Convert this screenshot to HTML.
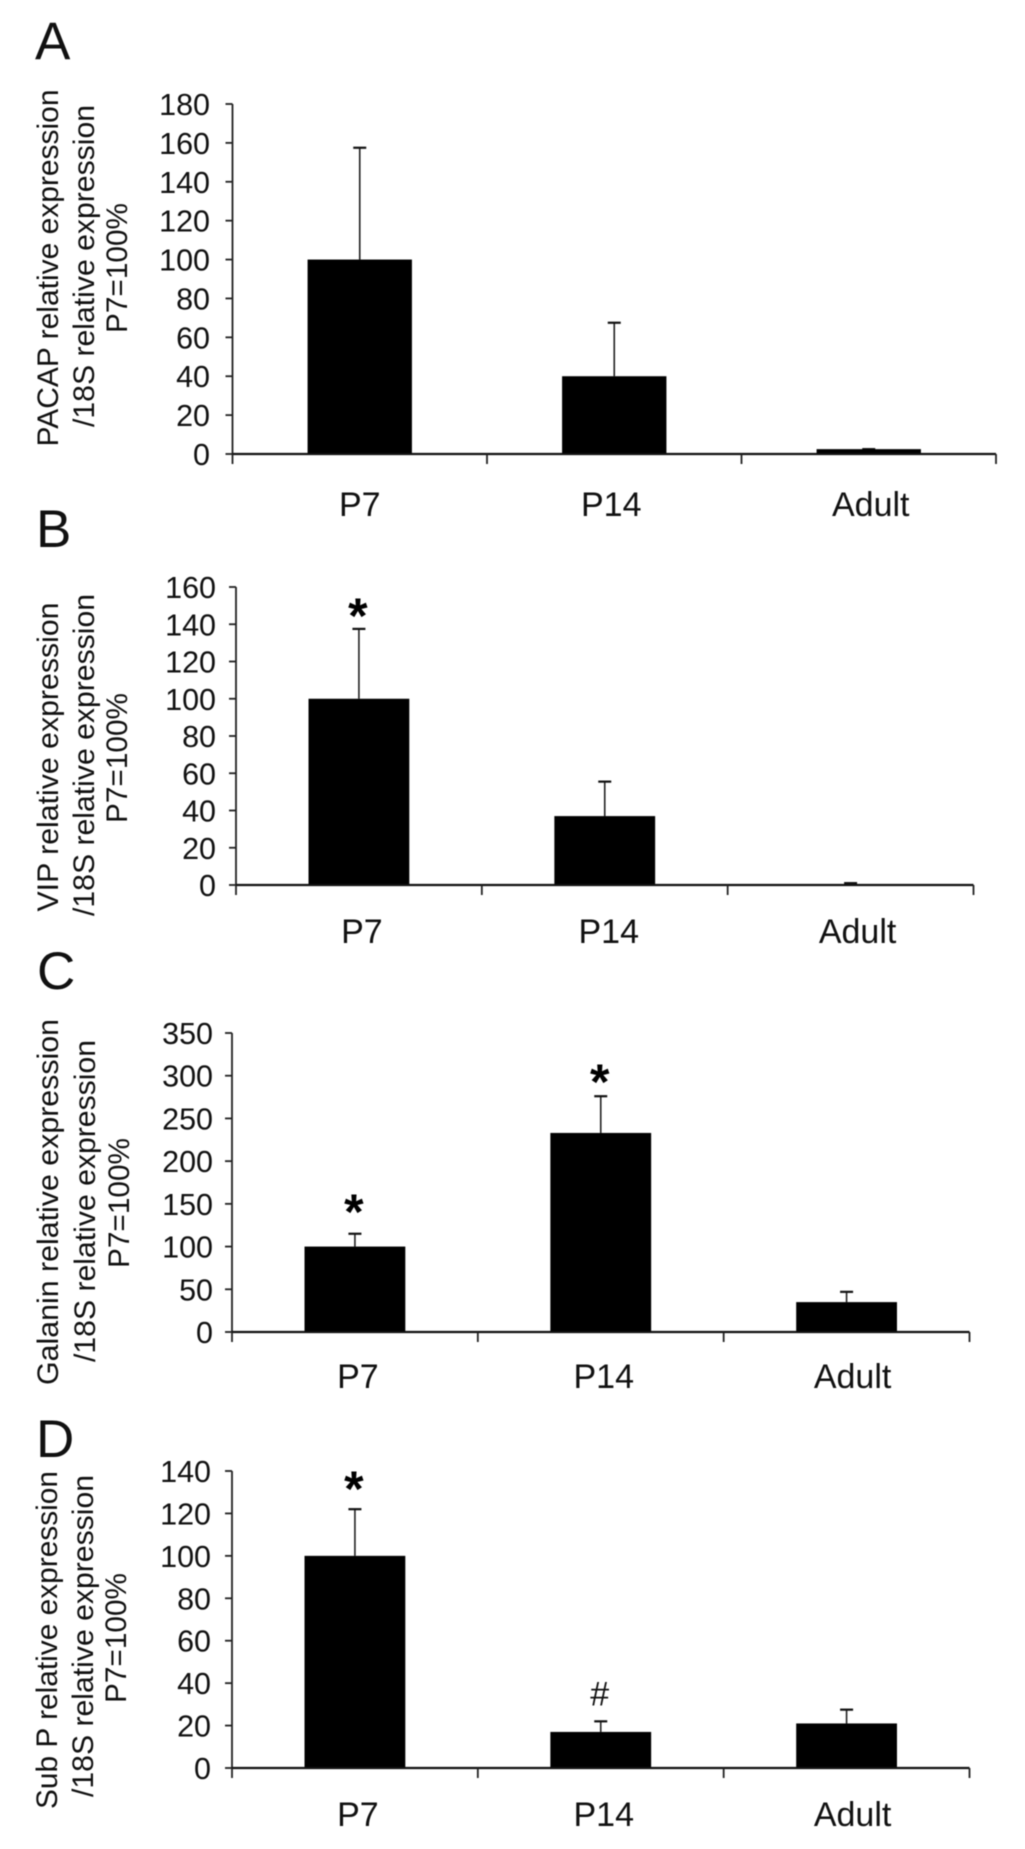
<!DOCTYPE html>
<html lang="en">
<head>
<meta charset="utf-8">
<title>Relative expression charts</title>
<style>
html,body{margin:0;padding:0;background:#fff;}
svg{display:block;width:1025px;height:1849px;filter:blur(0.55px);font-family:"Liberation Sans",sans-serif;}
.letter{font-size:53px;fill:#111;}
.ytitle{font-size:30px;fill:#111;text-anchor:middle;}
.tick{font-size:30.5px;fill:#111;text-anchor:end;}
.cat{font-size:34px;fill:#111;text-anchor:middle;}
.star{font-size:50px;font-weight:bold;fill:#000;text-anchor:middle;}
.hash{font-size:34px;fill:#111;text-anchor:middle;}
</style>
</head>
<body>
<svg id="fig" xmlns="http://www.w3.org/2000/svg" viewBox="0 0 1025 1849">
  <rect x="0" y="0" width="1025" height="1849" fill="#fff"/>

  <text class="letter" x="35" y="59">A</text>
  <text class="letter" x="36" y="547">B</text>
  <text class="letter" x="37" y="989">C</text>
  <text class="letter" x="36" y="1457">D</text>

  <text class="ytitle" transform="translate(58,268) rotate(-90)" textLength="357" lengthAdjust="spacingAndGlyphs">PACAP relative expression</text>
  <text class="ytitle" transform="translate(94,266) rotate(-90)" textLength="322" lengthAdjust="spacingAndGlyphs">/18S relative expression</text>
  <text class="ytitle" transform="translate(127,268) rotate(-90)" textLength="130" lengthAdjust="spacingAndGlyphs">P7=100%</text>

  <text class="ytitle" transform="translate(58,757) rotate(-90)" textLength="309" lengthAdjust="spacingAndGlyphs">VIP relative expression</text>
  <text class="ytitle" transform="translate(94,755) rotate(-90)" textLength="322" lengthAdjust="spacingAndGlyphs">/18S relative expression</text>
  <text class="ytitle" transform="translate(127,758) rotate(-90)" textLength="130" lengthAdjust="spacingAndGlyphs">P7=100%</text>

  <text class="ytitle" transform="translate(58,1202) rotate(-90)" textLength="366" lengthAdjust="spacingAndGlyphs">Galanin relative expression</text>
  <text class="ytitle" transform="translate(95,1201) rotate(-90)" textLength="322" lengthAdjust="spacingAndGlyphs">/18S relative expression</text>
  <text class="ytitle" transform="translate(129,1203) rotate(-90)" textLength="130" lengthAdjust="spacingAndGlyphs">P7=100%</text>

  <text class="ytitle" transform="translate(57,1640) rotate(-90)" textLength="338" lengthAdjust="spacingAndGlyphs">Sub P relative expression</text>
  <text class="ytitle" transform="translate(93,1636) rotate(-90)" textLength="322" lengthAdjust="spacingAndGlyphs">/18S relative expression</text>
  <text class="ytitle" transform="translate(126,1638) rotate(-90)" textLength="130" lengthAdjust="spacingAndGlyphs">P7=100%</text>
</svg>

<script>
// ---- data ----
const categories = ["P7", "P14", "Adult"];

const pacapValues = [100, 40, 2.5];
const pacapErrors = [157.5, 67.5, 2.5];
const pacapTicks = [0, 20, 40, 60, 80, 100, 120, 140, 160, 180];
const pacapMarks = ["", "", ""];

const vipValues = [100, 37, 0.4];
const vipErrors = [137.5, 55.5, 1];
const vipTicks = [0, 20, 40, 60, 80, 100, 120, 140, 160];
const vipMarks = ["*", "", ""];

const galaninValues = [100, 233, 35];
const galaninErrors = [115, 276, 47];
const galaninTicks = [0, 50, 100, 150, 200, 250, 300, 350];
const galaninMarks = ["*", "*", ""];

const subpValues = [100, 17, 21];
const subpErrors = [122, 22, 27.5];
const subpTicks = [0, 20, 40, 60, 80, 100, 120, 140];
const subpMarks = ["*", "#", ""];

// ---- layout (pixels live only here) ----
const panels = [
  {id:"pacap", values:pacapValues, errors:pacapErrors, ticks:pacapTicks, marks:pacapMarks,
   left:232.5, right:996, base:454, top:104, labelEnd:210, catY:516, catShift:[0,-3,2], markGap:[0,0,0]},
  {id:"vip", values:vipValues, errors:vipErrors, ticks:vipTicks, marks:vipMarks,
   left:236, right:973.5, base:885, top:587, labelEnd:216, catY:943, catShift:[3,4,7], markGap:[12,0,0]},
  {id:"galanin", values:galaninValues, errors:galaninErrors, ticks:galaninTicks, marks:galaninMarks,
   left:232, right:969.5, base:1332, top:1033, labelEnd:213, catY:1388, catShift:[3,3,6], markGap:[21,13,0]},
  {id:"subp", values:subpValues, errors:subpErrors, ticks:subpTicks, marks:subpMarks,
   left:232, right:969.5, base:1768, top:1471, labelEnd:211, catY:1826, catShift:[3,3,6], markGap:[19,14,0]}
];

const NS = "http://www.w3.org/2000/svg";
const svg = document.getElementById("fig");
const BAR_FRACTION = 0.41;
const CAP_HALF = 6.5;

function mk(parent, tag, attrs, text) {
  const el = document.createElementNS(NS, tag);
  for (const k in attrs) el.setAttribute(k, attrs[k]);
  if (text !== undefined) el.textContent = text;
  parent.appendChild(el);
  return el;
}

function drawPanel(p) {
  const maxTick = p.ticks[p.ticks.length - 1];
  const band = (p.right - p.left) / categories.length;
  const yScale = function (v) { return p.base - (v / maxTick) * (p.base - p.top); };
  const xCenter = function (i) { return p.left + (i + 0.5) * band; };

  const g = mk(svg, "g", {});
  
  

  // bars
  categories.forEach(function (cat, i) {
    const w = band * BAR_FRACTION;
    const yTop = yScale(p.values[i]);
    const yErr = yScale(p.errors[i]);
    const cx = xCenter(i);

    const err = mk(g, "line", {x1:cx, x2:cx, y1:yTop, y2:yErr, stroke:"#222", "stroke-width":1.6});
    
    

    const cap = mk(g, "line", {x1:cx - CAP_HALF, x2:cx + CAP_HALF, y1:yErr, y2:yErr, stroke:"#111", "stroke-width":2.2});
    
    

    const bar = mk(g, "rect", {x:cx - w / 2, y:yTop, width:w, height:p.base - yTop, fill:"#000"});
    
    

    const label = mk(g, "text", {"class":"cat", x:cx + p.catShift[i], y:p.catY}, cat);
    
    

    if (p.marks[i]) {
      const isStar = p.marks[i] === "*";
      const inkBottom = yErr - p.markGap[i];
      const mark = mk(g, "text", {"class":isStar ? "star" : "hash", x:cx - 1, y:isStar ? inkBottom + 16 : inkBottom - 2}, p.marks[i]);
      
      
    }
  });

  // y axis
  const yAxis = mk(g, "line", {x1:p.left, x2:p.left, y1:p.top, y2:p.base, stroke:"#222", "stroke-width":1.8});
  
  

  p.ticks.forEach(function (t) {
    const y = yScale(t);
    const tick = mk(g, "line", {x1:p.left - 7, x2:p.left, y1:y, y2:y, stroke:"#222", "stroke-width":1.8});
    
    

    const label = mk(g, "text", {"class":"tick", x:p.labelEnd, y:y + 11}, String(t));
    
    
  });

  // x axis
  const xAxis = mk(g, "line", {x1:p.left, x2:p.right, y1:p.base, y2:p.base, stroke:"#111", "stroke-width":2.2});
  
  

  for (let i = 0; i <= categories.length; i++) {
    const x = p.left + i * band;
    const xt = mk(g, "line", {x1:x, x2:x, y1:p.base, y2:p.base + 10, stroke:"#222", "stroke-width":1.8});
    
    
  }
}

panels.forEach(drawPanel);
</script>
</body>
</html>
